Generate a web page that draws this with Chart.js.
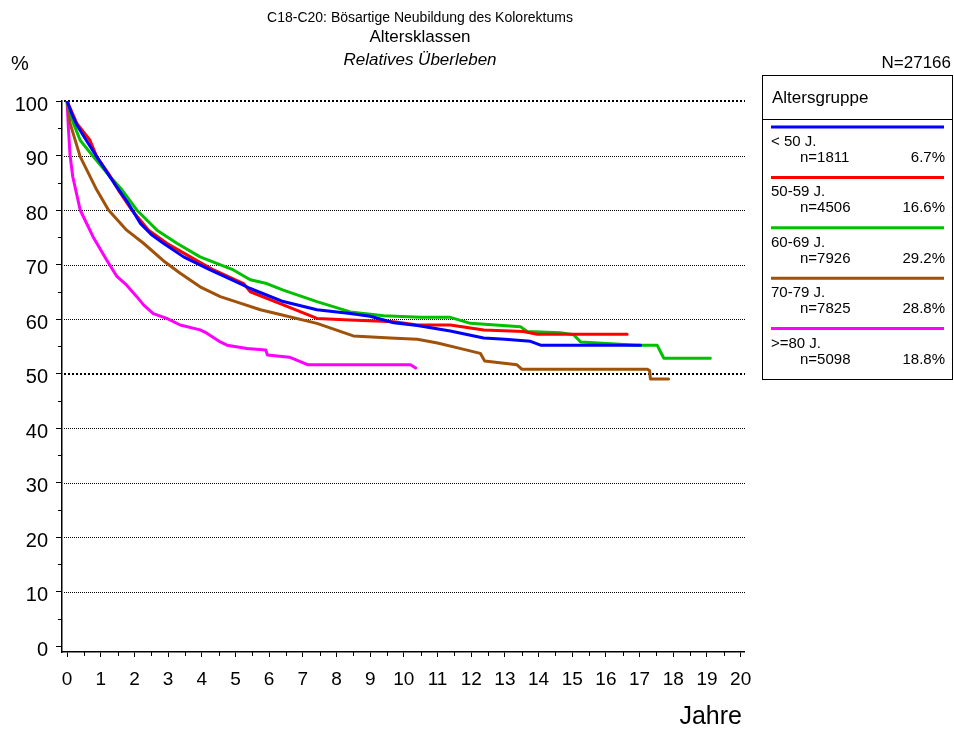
<!DOCTYPE html>
<html>
<head>
<meta charset="utf-8">
<script src="https://cdn.jsdelivr.net/npm/chart.js@4/dist/chart.umd.min.js"></script>
<style>
  html, body { margin: 0; padding: 0; background: #fff; }
  #wrap { width: 954px; height: 731px; }
</style>
</head>
<body>
<div id="wrap"><canvas id="myChart" width="954" height="731"></canvas></div>
<script>
'use strict';

// legend / groups
let groupNames = ['< 50 J.', '50-59 J.', '60-69 J.', '70-79 J.', '>=80 J.'];
let groupCounts = ['n=1811', 'n=4506', 'n=7926', 'n=7825', 'n=5098'];
let groupShares = ['6.7%', '16.6%', '29.2%', '28.8%', '18.8%'];
let groupColors = ['#0000ff', '#ff0000', '#00c000', '#a0520a', '#ff00ff'];

// curves: years since diagnosis and relative survival (%)
let yearsU50 = [0, 0.15, 0.3, 0.5, 0.88, 1.23, 1.5, 1.82, 2.17, 2.5, 2.86, 3.46, 4.25, 5.14, 5.44, 6.42, 7.42, 8.41, 9.0, 9.7, 10.4, 11.38, 12.37, 13.0, 13.76, 14.06, 15.0, 16.0, 17.03];
let survU50  = [100, 97.5, 95.5, 93.5, 89.8, 86.5, 84.0, 81.2, 77.6, 75.5, 73.9, 71.4, 69.0, 66.5, 65.6, 63.2, 61.7, 61.0, 60.5, 59.3, 58.8, 57.8, 56.5, 56.3, 55.9, 55.2, 55.2, 55.2, 55.2];

let years5059 = [0, 0.29, 0.68, 0.88, 1.23, 1.52, 1.92, 2.42, 2.96, 3.66, 4.35, 5.24, 5.44, 6.42, 7.42, 8.41, 9.7, 10.4, 11.38, 12.37, 13.55, 13.96, 15.0, 16.63];
let surv5059  = [100, 95.9, 92.8, 89.8, 86.7, 83.7, 80.0, 76.3, 73.9, 71.4, 69.0, 66.5, 65.0, 62.6, 60.1, 59.8, 59.5, 58.9, 58.9, 58.0, 57.7, 57.2, 57.2, 57.2];

let years6069 = [0, 0.19, 0.39, 0.78, 1.28, 1.63, 2.07, 2.67, 3.26, 3.95, 4.94, 5.44, 5.93, 6.42, 7.42, 8.41, 9.4, 10.5, 11.38, 11.98, 13.46, 13.66, 14.65, 15.04, 15.25, 16.93, 17.52, 17.72, 19.1];
let surv6069  = [100, 95.9, 92.8, 89.8, 86.1, 83.7, 80.0, 76.3, 73.9, 71.4, 69.0, 67.2, 66.5, 65.3, 63.2, 61.3, 60.6, 60.3, 60.3, 59.2, 58.6, 57.7, 57.5, 57.1, 55.8, 55.2, 55.2, 52.8, 52.8];

let years7079 = [0, 0.09, 0.39, 0.88, 1.23, 1.77, 2.27, 2.9, 3.36, 3.95, 4.55, 5.14, 5.74, 6.42, 7.42, 8.5, 9.6, 10.4, 11.0, 11.6, 12.27, 12.4, 13.36, 13.5, 17.23, 17.3, 17.32, 17.86];
let surv7079  = [100, 95.9, 89.8, 83.7, 80.0, 76.3, 73.9, 70.5, 68.4, 65.9, 64.1, 62.9, 61.7, 60.7, 59.2, 56.9, 56.5, 56.3, 55.6, 54.7, 53.7, 52.3, 51.6, 50.8, 50.8, 50.5, 49.0, 49.0];

let years80 = [0, 0.04, 0.09, 0.17, 0.39, 0.77, 1.18, 1.48, 1.77, 2.07, 2.27, 2.56, 2.96, 3.36, 3.95, 4.15, 4.55, 4.75, 5.34, 5.9, 5.95, 6.6, 6.8, 7.16, 10.2, 10.35];
let surv80  = [100, 95.0, 90.0, 86.1, 80.0, 75.1, 70.8, 67.8, 66.2, 64.1, 62.6, 61.0, 60.1, 58.9, 58.0, 57.4, 55.8, 55.2, 54.6, 54.3, 53.4, 53.0, 52.5, 51.6, 51.6, 51.0];

let allYears = [yearsU50, years5059, years6069, years7079, years80];
let allSurv = [survU50, surv5059, surv6069, surv7079, surv80];

// axes
let xTicks = [0, 1, 2, 3, 4, 5, 6, 7, 8, 9, 10, 11, 12, 13, 14, 15, 16, 17, 18, 19, 20];
let xTickLabels = ['0', '1', '2', '3', '4', '5', '6', '7', '8', '9', '10', '11', '12', '13', '14', '15', '16', '17', '18', '19', '20'];
let xMinorTicks = [0.5, 1.5, 2.5, 3.5, 4.5, 5.5, 6.5, 7.5, 8.5, 9.5, 10.5, 11.5, 12.5, 13.5, 14.5, 15.5, 16.5, 17.5, 18.5, 19.5];
let yTicks = [0, 10, 20, 30, 40, 50, 60, 70, 80, 90, 100];
let yTickLabels = ['0', '10', '20', '30', '40', '50', '60', '70', '80', '90', '100'];
let yMinorTicks = [5, 15, 25, 35, 45, 55, 65, 75, 85, 95];
let yBoldLines = [50, 100];

let titleLines = ['C18-C20: Bösartige Neubildung des Kolorektums', 'Altersklassen', 'Relatives Überleben'];
let totalLabel = 'N=27166';
let legendTitle = 'Altersgruppe';

const FONT = "'Liberation Sans', Arial, sans-serif";

let datasets = [];
for (let i = 0; i < groupNames.length; i++) {
    let pts = [];
    for (let j = 0; j < allYears[i].length; j++) {
        pts.push({x: allYears[i][j], y: allSurv[i][j]});
    }
    datasets.push({
        label: groupNames[i],
        data: pts,
        borderColor: groupColors[i],
        backgroundColor: groupColors[i],
        borderWidth: 3,
        pointRadius: 0,
        tension: 0,
        fill: false,
        borderJoinStyle: 'round',
        borderCapStyle: 'round'
    });
}

// dotted grid lines + minor ticks
let gridPlugin = {
    id: 'dottedGrid',
    beforeDatasetsDraw(chart) {
        let ctx = chart.ctx;
        let xs = chart.scales.x, ys = chart.scales.y;
        let area = chart.chartArea;
        ctx.save();
        ctx.strokeStyle = '#000';
        for (let v of yTicks) {
            if (v === 0) continue;
            let y = Math.round(ys.getPixelForValue(v));
            let bold = yBoldLines.includes(v);
            ctx.lineWidth = bold ? 2 : 1;
            ctx.setLineDash(bold ? [2, 2] : [1, 1]);
            ctx.beginPath();
            ctx.moveTo(area.left + 2, bold ? y : y + 0.5);
            ctx.lineTo(area.right + 1, bold ? y : y + 0.5);
            ctx.stroke();
        }
        ctx.setLineDash([]);
        ctx.lineWidth = 1;
        for (let v of yMinorTicks) {
            let y = Math.round(ys.getPixelForValue(v)) + 0.5;
            ctx.beginPath();
            ctx.moveTo(area.left - 4, y);
            ctx.lineTo(area.left, y);
            ctx.stroke();
        }
        for (let v of xMinorTicks) {
            let x = Math.round(xs.getPixelForValue(v)) + 0.5;
            ctx.beginPath();
            ctx.moveTo(x, area.bottom);
            ctx.lineTo(x, area.bottom + 4);
            ctx.stroke();
        }
        ctx.restore();
    }
};

// titles, axis captions and the legend box
let textPlugin = {
    id: 'texts',
    afterDraw(chart) {
        let ctx = chart.ctx;
        ctx.save();
        ctx.fillStyle = '#000';
        ctx.textBaseline = 'alphabetic';

        ctx.textAlign = 'center';
        ctx.font = '14px ' + FONT;
        ctx.fillText(titleLines[0], 420, 22);
        ctx.font = '17px ' + FONT;
        ctx.fillText(titleLines[1], 420, 42);
        ctx.font = 'italic 17px ' + FONT;
        ctx.fillText(titleLines[2], 420, 65);

        ctx.textAlign = 'left';
        ctx.font = '20px ' + FONT;
        ctx.fillText('%', 11, 70);
        ctx.textAlign = 'right';
        ctx.font = '17px ' + FONT;
        ctx.fillText(totalLabel, 951, 68);
        ctx.font = '25px ' + FONT;
        ctx.fillText('Jahre', 742, 724);

        // legend box
        let bx = 762.5, by = 75.5, bw = 190, bh = 304;
        ctx.strokeStyle = '#000';
        ctx.lineWidth = 1;
        ctx.strokeRect(bx, by, bw, bh);
        ctx.beginPath();
        ctx.moveTo(bx, 119.5);
        ctx.lineTo(bx + bw, 119.5);
        ctx.stroke();
        ctx.textAlign = 'left';
        ctx.font = '17px ' + FONT;
        ctx.fillText(legendTitle, 772, 103);

        for (let i = 0; i < groupNames.length; i++) {
            let ly = 127 + i * 50.4;
            ctx.strokeStyle = groupColors[i];
            ctx.lineWidth = 3;
            ctx.beginPath();
            ctx.moveTo(771, ly);
            ctx.lineTo(944, ly);
            ctx.stroke();
            ctx.font = '15px ' + FONT;
            ctx.textAlign = 'left';
            ctx.fillText(groupNames[i], 771, ly + 19);
            ctx.fillText(groupCounts[i], 800, ly + 35);
            ctx.textAlign = 'right';
            ctx.fillText(groupShares[i], 945, ly + 35);
        }
        ctx.restore();
    }
};

let ctx = document.getElementById('myChart').getContext('2d');
let chart = new Chart(ctx, {
    type: 'line',
    data: { datasets: datasets },
    plugins: [gridPlugin, textPlugin],
    options: {
        responsive: false,
        animation: false,
        devicePixelRatio: 1,
        layout: { padding: { left: 0, top: 101, right: 210, bottom: 0 } },
        plugins: { legend: { display: false }, tooltip: { enabled: false }, title: { display: false } },
        scales: {
            x: {
                type: 'linear',
                min: -0.15,
                max: 20.1,
                afterBuildTicks: (s) => { s.ticks = xTicks.map(v => ({ value: v })); },
                afterFit: (s) => { s.height = 79; },
                ticks: {
                    autoSkip: false,
                    maxRotation: 0,
                    color: '#000',
                    padding: 11,
                    font: { family: FONT, size: 19 },
                    callback: (v, i) => xTickLabels[i]
                },
                grid: { drawOnChartArea: false, drawTicks: true, tickLength: 5, tickColor: '#000', tickWidth: 1 },
                border: { display: true, color: '#000', width: 1.5 }
            },
            y: {
                type: 'linear',
                min: -1.1,
                max: 100,
                afterBuildTicks: (s) => { s.ticks = yTicks.map(v => ({ value: v })); },
                afterFit: (s) => { s.width = 62; },
                ticks: {
                    autoSkip: false,
                    color: '#000',
                    padding: 8,
                    labelOffset: 4,
                    font: { family: FONT, size: 20 },
                    callback: (v, i) => yTickLabels[i]
                },
                grid: { drawOnChartArea: false, drawTicks: true, tickLength: 6, tickColor: '#000', tickWidth: 1 },
                border: { display: true, color: '#000', width: 1.5 }
            }
        }
    }
});
</script>
</body>
</html>
